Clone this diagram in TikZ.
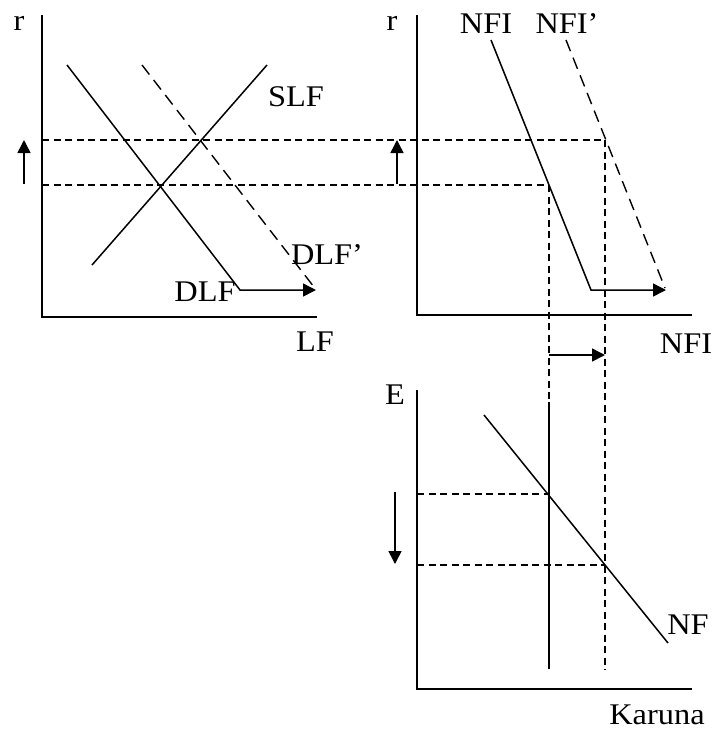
\documentclass[tikz,border=0pt]{standalone}
\usepackage{fontspec}
\setmainfont{Liberation Serif}
\usetikzlibrary{arrows.meta}
\newcommand{\stx}[1]{\scalebox{1.08}[1]{#1}}
\begin{document}
\begin{tikzpicture}[x=1pt,y=-1pt,
  axis/.style={line width=2pt},
  curve/.style={line width=1.5pt},
  dcurve/.style={line width=1.4pt,dash pattern=on 12pt off 7pt},
  guide/.style={line width=1.3pt,dash pattern=on 7pt off 4.5pt},
  tip/.style={-{Triangle[length=13pt,width=13pt]}},
  lbl/.style={inner sep=0pt,anchor=base,font=\fontsize{30}{33}\selectfont}]
\useasboundingbox (0,0) rectangle (718,732);
% ---------- panel 1 ----------
\coordinate (o1) at (42,317);
\coordinate (y1) at (42,15);
\coordinate (x1) at (317,317);
\draw[axis] (y1) -- (o1) -- (x1);
\node[lbl] (r1) at (19,30) {\stx{r}};
\node[lbl] (lf) at (315,351) {\stx{LF}};
\coordinate (dA) at (67,65);
\coordinate (dB) at (240,290);
\coordinate (dC) at (316,290);
\draw[curve,tip] (dA) -- (dB) -- (dC);
\coordinate (dpA) at (142,65);
\coordinate (dpB) at (314,287);
\draw[dcurve] (dpA) -- (dpB);
\coordinate (sA) at (92,265);
\coordinate (sB) at (267,65);
\draw[curve] (sA) -- (sB);
\node[lbl] (slf) at (296,106) {\stx{SLF}};
\node[lbl] (dlfp) at (327,264) {\stx{DLF’}};
\node[lbl] (dlf) at (205,301) {\stx{DLF}};
\coordinate (ua1) at (24,184);
\coordinate (ub1) at (24,140);
\draw[line width=1.5pt,tip] (ua1) -- (ub1);
% ---------- panel 2 ----------
\coordinate (o2) at (417,315);
\coordinate (y2) at (417,15);
\coordinate (x2) at (692,315);
\draw[axis] (y2) -- (o2) -- (x2);
\node[lbl] (r2) at (392,30) {\stx{r}};
\node[lbl] (nfit) at (486,33) {\stx{NFI}};
\node[lbl] (nfip) at (567,33) {\stx{NFI’}};
\node[lbl] (nfib) at (686,353) {\stx{NFI}};
\coordinate (nA) at (491,40);
\coordinate (nB) at (591,290);
\coordinate (nC) at (666,290);
\draw[curve,tip] (nA) -- (nB) -- (nC);
\coordinate (npA) at (566,40);
\coordinate (npB) at (665,288);
\draw[dcurve] (npA) -- (npB);
\coordinate (ua2) at (397,184);
\coordinate (ub2) at (397,140);
\draw[line width=1.5pt,tip] (ua2) -- (ub2);
% guides
\coordinate (hL1) at (42,140);
\coordinate (hR1) at (605,140);
\coordinate (hL2) at (42,185);
\coordinate (hR2) at (549,185);
\draw[guide] (hL1) -- (hR1);
\draw[guide] (hL2) -- (hR2);
\coordinate (vA) at (549,399);
\coordinate (vB) at (605,670);
\draw[guide] (hR2) -- (vA);
\draw[guide] (hR1) -- (vB);
\coordinate (sa) at (549,355);
\coordinate (sb) at (605,355);
\draw[line width=1.5pt,tip] (sa) -- (sb);
% ---------- panel 3 ----------
\coordinate (o3) at (417,689);
\coordinate (y3) at (417,390);
\coordinate (x3) at (692,689);
\draw[axis] (y3) -- (o3) -- (x3);
\node[lbl] (e) at (395,404) {\stx{E}};
\node[lbl] (nf) at (688,634) {\stx{NF}};
\node[lbl] (kar) at (657,724) {\stx{Karuna}};
\coordinate (fA) at (484,415);
\coordinate (fB) at (668,643);
\draw[curve] (fA) -- (fB);
\coordinate (vs1) at (549,402);
\coordinate (vs2) at (549,669);
\draw[curve] (vs1) -- (vs2);
\coordinate (eL1) at (417,494);
\coordinate (eR1) at (549,494);
\coordinate (eL2) at (417,565);
\coordinate (eR2) at (605,565);
\draw[guide] (eL1) -- (eR1);
\draw[guide] (eL2) -- (eR2);
\coordinate (da) at (395,492);
\coordinate (db) at (395,564);
\draw[line width=1.5pt,tip] (da) -- (db);
\end{tikzpicture}
\end{document}
